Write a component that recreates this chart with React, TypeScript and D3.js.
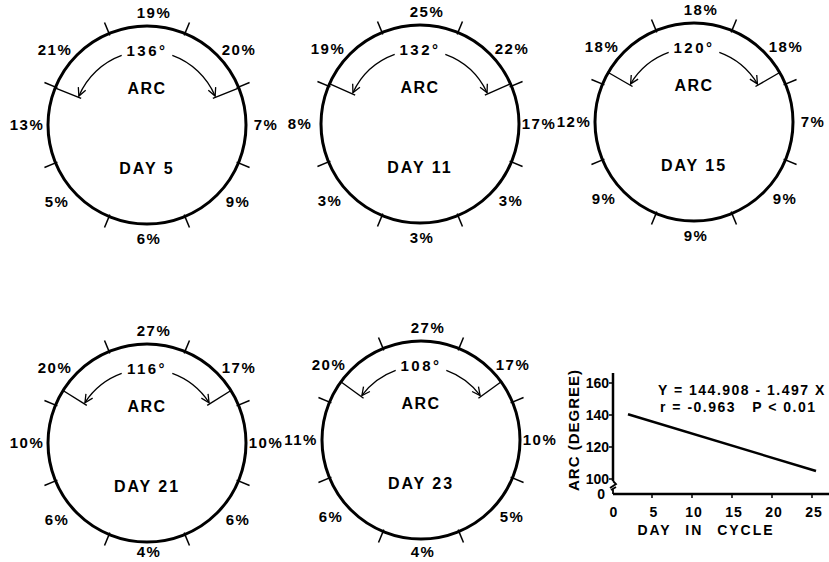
import React, { useEffect, useRef } from "react";
import * as d3 from "d3";

// one panel per day of the cycle
const days = [5, 11, 15, 21, 23];
const arcDegrees = [136, 132, 120, 116, 108];

// percent per 45° sector, clockwise starting at the top
const day5 = [19, 20, 7, 9, 6, 5, 13, 21];
const day11 = [25, 22, 17, 3, 3, 3, 8, 19];
const day15 = [18, 18, 7, 9, 9, 9, 12, 18];
const day21 = [27, 17, 10, 6, 4, 6, 10, 20];
const day23 = [27, 17, 10, 5, 4, 6, 11, 20];
const sectorData = [day5, day11, day15, day21, day23];

// regression line
const fitDays = [2, 25.5];
const fitArc = [140.5, 105];
const yTicks = [100, 120, 140, 160];
const xTicks = [0, 5, 10, 15, 20, 25];
const equation = "Y = 144.908 - 1.497 X";
const stats = "r = -0.963   P < 0.01";

const W = 829;
const H = 562;
const FONT = "'Liberation Sans', Arial, sans-serif";

export default function App() {
  const ref = useRef<SVGSVGElement>(null);

  useEffect(() => {
    if (!ref.current) return;
    const svg = d3.select(ref.current);
    svg.selectAll("*").remove();

    svg
      .append("defs")
      .append("marker")
      .attr("id", "head")
      .attr("markerUnits", "userSpaceOnUse")
      .attr("markerWidth", 12)
      .attr("markerHeight", 12)
      .attr("refX", 9)
      .attr("refY", 5)
      .attr("orient", "auto")
      .append("path")
      .attr("d", "M1,1 L9,5 L1,9")
      .attr("fill", "none")
      .attr("stroke", "#000")
      .attr("stroke-width", 1.3);

    const centers = [
      [147, 125],
      [420, 124],
      [694, 122],
      [147, 443],
      [421, 440],
    ];
    const R = 99;
    const labelOffsets = [
      [7, -112],
      [92, -75],
      [119, 0],
      [91, 77],
      [2, 114],
      [-90, 77],
      [-120, 0],
      [-92, -75],
    ];
    const rad = (deg: number) => (deg * Math.PI) / 180;
    const pt = (deg: number, r: number) => [r * Math.sin(rad(deg)), -r * Math.cos(rad(deg))];
    const sector = d3.scaleLinear().domain([0, 1]).range([0, 45]);

    days.forEach((day, i) => {
      const [cx, cy] = centers[i];
      const g = svg.append("g").attr("transform", `translate(${cx},${cy})`);

      g.append("circle")
        .attr("r", R)
        .attr("fill", "none")
        .attr("stroke", "#000")
        .attr("stroke-width", 3);

      // sector boundaries
      d3.range(8).forEach((k) => {
        const a = sector(k + 0.5);
        const p0 = pt(a, R - 2);
        const p1 = pt(a, R + 12);
        g.append("line")
          .attr("x1", p0[0]).attr("y1", p0[1])
          .attr("x2", p1[0]).attr("y2", p1[1])
          .attr("stroke", "#000")
          .attr("stroke-width", 1.5);
      });

      sectorData[i].forEach((v, k) => {
        const ly = Math.min(labelOffsets[k][1], H - 10 - cy);
        g.append("text")
          .attr("x", labelOffsets[k][0])
          .attr("y", ly)
          .attr("dy", "0.36em")
          .attr("text-anchor", "middle")
          .attr("font-size", 15)
          .attr("font-weight", "bold")
          .attr("letter-spacing", 1.5)
          .text(`${v}%`);
      });

      // arc boundaries and arrows
      const half = arcDegrees[i] / 2;
      [-1, 1].forEach((s) => {
        const a = s * half;
        const p0 = pt(a, R + 1);
        const p1 = pt(a, R - 28);
        g.append("line")
          .attr("x1", p0[0]).attr("y1", p0[1])
          .attr("x2", p1[0]).attr("y2", p1[1])
          .attr("stroke", "#000")
          .attr("stroke-width", 1.4);

        const ra = R - 25;
        const start = s * 20;
        const end = s * (half - 1);
        const path = d3.path();
        const sp = pt(start, ra);
        path.moveTo(sp[0], sp[1]);
        path.arc(0, 0, ra, rad(start - 90), rad(end - 90), s < 0);
        g.append("path")
          .attr("d", path.toString())
          .attr("fill", "none")
          .attr("stroke", "#000")
          .attr("stroke-width", 1.3)
          .attr("marker-end", "url(#head)");
      });

      g.append("text")
        .attr("y", -69)
        .attr("text-anchor", "middle")
        .attr("font-size", 15)
        .attr("font-weight", "bold")
        .attr("letter-spacing", 2.5)
        .text(`${arcDegrees[i]}°`);
      g.append("text")
        .attr("y", -31)
        .attr("text-anchor", "middle")
        .attr("font-size", 16)
        .attr("font-weight", "bold")
        .attr("letter-spacing", 1.5)
        .text("ARC");
      g.append("text")
        .attr("y", 49)
        .attr("text-anchor", "middle")
        .attr("font-size", 16)
        .attr("font-weight", "bold")
        .attr("letter-spacing", 2)
        .text(`DAY ${day}`);
    });

    // small regression plot
    const x = d3.scaleLinear().domain([0, 25]).range([612, 812]);
    const y = d3.scaleLinear().domain([100, 160]).range([479, 383]);
    const yZero = 494;
    const axisX = 613;
    const p = svg.append("g");

    p.append("line")
      .attr("x1", axisX).attr("x2", axisX)
      .attr("y1", 373).attr("y2", 481)
      .attr("stroke", "#000").attr("stroke-width", 2.5);
    // axis break
    p.append("path")
      .attr("d", `M${axisX},481 l3,3 l-6,4 M${axisX - 2},490 l5,-3 M${axisX},489 V${yZero}`)
      .attr("fill", "none").attr("stroke", "#000").attr("stroke-width", 1.8);
    p.append("line")
      .attr("x1", axisX).attr("x2", W)
      .attr("y1", yZero).attr("y2", yZero)
      .attr("stroke", "#000").attr("stroke-width", 2.5);

    yTicks.forEach((t) => {
      p.append("line")
        .attr("x1", axisX - 4).attr("x2", axisX)
        .attr("y1", y(t)).attr("y2", y(t))
        .attr("stroke", "#000").attr("stroke-width", 1.5);
      p.append("text")
        .attr("x", axisX - 4)
        .attr("y", y(t))
        .attr("dy", "0.36em")
        .attr("text-anchor", "end")
        .attr("font-size", 14)
        .attr("font-weight", "bold")
        .text(t);
    });
    p.append("text")
      .attr("x", axisX - 8)
      .attr("y", yZero)
      .attr("dy", "0.36em")
      .attr("text-anchor", "end")
      .attr("font-size", 14)
      .attr("font-weight", "bold")
      .text(0);

    xTicks.forEach((t) => {
      if (t > 0) {
        p.append("line")
          .attr("x1", x(t)).attr("x2", x(t))
          .attr("y1", yZero).attr("y2", yZero + 4)
          .attr("stroke", "#000").attr("stroke-width", 1.5);
      }
      p.append("text")
        .attr("x", x(t) + 2)
        .attr("y", 517)
        .attr("text-anchor", "middle")
        .attr("font-size", 14)
        .attr("font-weight", "bold")
        .attr("letter-spacing", 1)
        .text(t);
    });

    p.append("text")
      .attr("x", 706)
      .attr("y", 535)
      .attr("text-anchor", "middle")
      .attr("font-size", 14)
      .attr("font-weight", "bold")
      .attr("letter-spacing", 2)
      .attr("word-spacing", 8)
      .text("DAY IN CYCLE");

    p.append("text")
      .attr("transform", "translate(579,430) rotate(-90)")
      .attr("text-anchor", "middle")
      .attr("font-size", 15)
      .attr("font-weight", "bold")
      .attr("letter-spacing", 1)
      .text("ARC (DEGREE)");

    const line = d3
      .line<number>()
      .x((d) => x(d))
      .y((_, k) => y(fitArc[k]));
    p.append("path")
      .attr("d", line(fitDays))
      .attr("fill", "none")
      .attr("stroke", "#000")
      .attr("stroke-width", 2.5);

    p.append("text")
      .attr("x", 658)
      .attr("y", 395)
      .attr("font-size", 14)
      .attr("font-weight", "bold")
      .attr("letter-spacing", 1.5)
      .text(equation);
    p.append("text")
      .attr("x", 660)
      .attr("y", 412)
      .attr("font-size", 14)
      .attr("font-weight", "bold")
      .attr("letter-spacing", 1.5)
      .style("white-space", "pre")
      .text(stats);
  }, []);

  return (
    <svg
      ref={ref}
      width={W}
      height={H}
      style={{ position: "absolute", left: 0, top: 0, background: "#fff", fontFamily: FONT }}
    />
  );
}
